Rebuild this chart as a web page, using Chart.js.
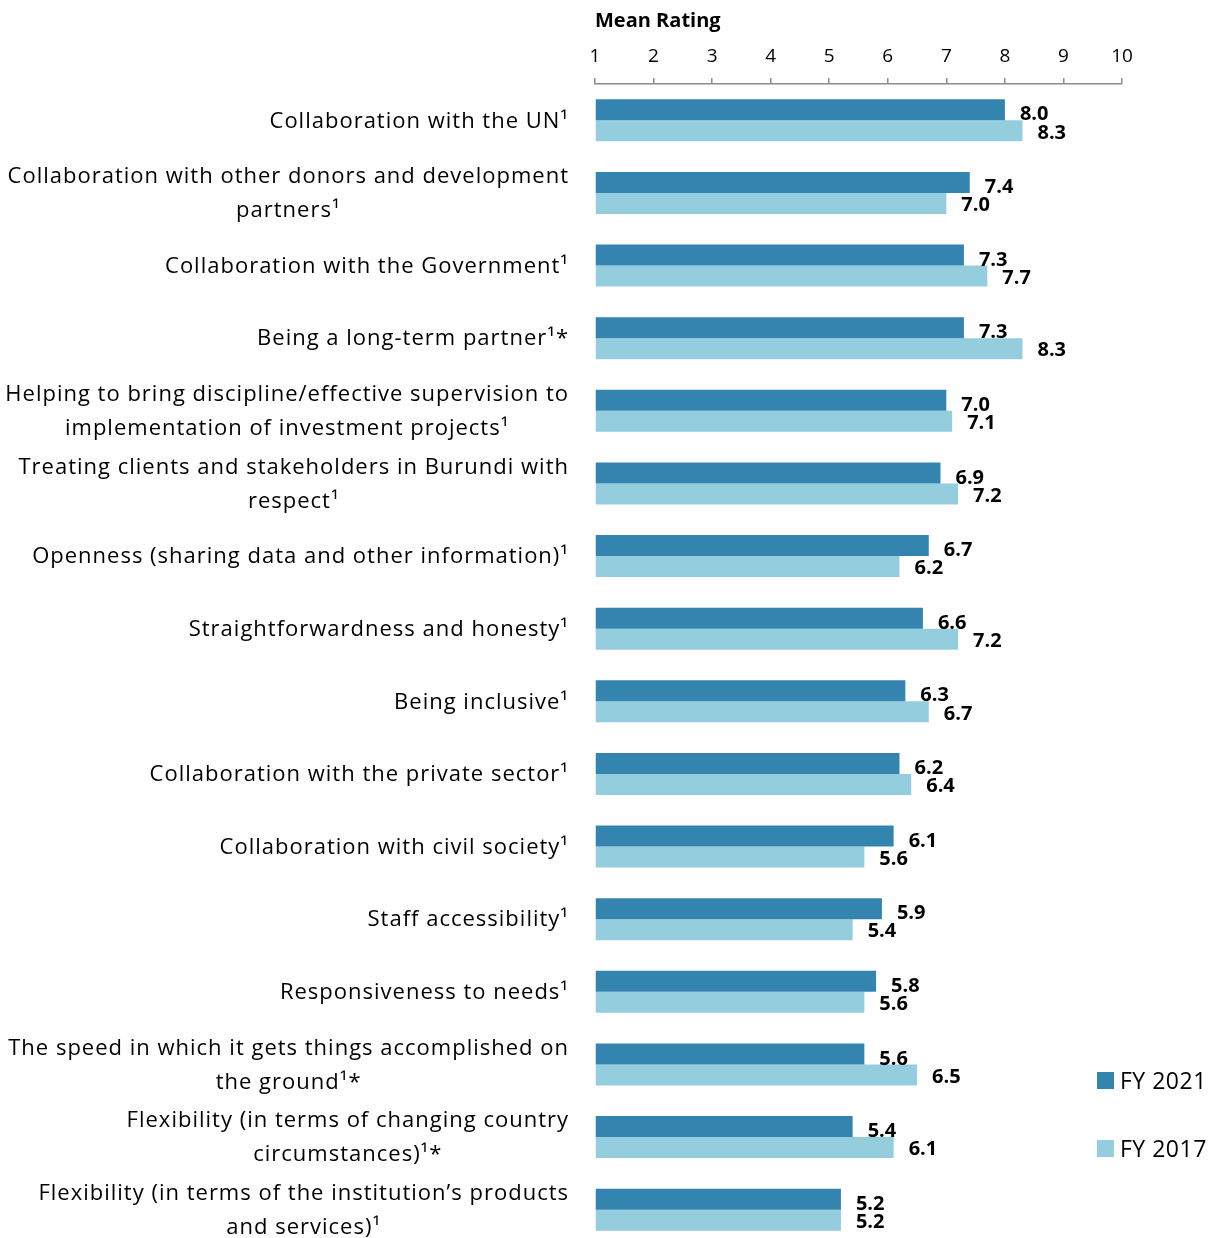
<!DOCTYPE html>
<html>
<head>
<meta charset="utf-8">
<script src="https://cdn.jsdelivr.net/npm/chart.js@4/dist/chart.umd.min.js"></script>
<style>
  html, body { margin: 0; padding: 0; background: #fff; overflow: hidden; }
  #wrap { position: relative; width: 1212px; height: 1246px; }
  #legend { position: absolute; left: 1097px; top: 1065px; font: 23px 'Open Sans', sans-serif; letter-spacing: 0.5px; color: #000; }
  .item { display: flex; align-items: center; height: 30px; }
  .item + .item { margin-top: 38px; }
  .box { width: 17px; height: 17px; margin-right: 6px; }
</style>
</head>
<body>
<div id="wrap">
  <canvas id="myChart" width="1212" height="1246"></canvas>
  <div id="legend"></div>
</div>
<script>
// Chart data
var categories = [
  'Collaboration with the UN¹',
  ['Collaboration with other donors and development', 'partners¹'],
  'Collaboration with the Government¹',
  'Being a long-term partner¹*',
  ['Helping to bring discipline/effective supervision to', 'implementation of investment projects¹'],
  ['Treating clients and stakeholders in Burundi with', 'respect¹'],
  'Openness (sharing data and other information)¹',
  'Straightforwardness and honesty¹',
  'Being inclusive¹',
  'Collaboration with the private sector¹',
  'Collaboration with civil society¹',
  'Staff accessibility¹',
  'Responsiveness to needs¹',
  ['The speed in which it gets things accomplished on', 'the ground¹*'],
  ['Flexibility (in terms of changing country', 'circumstances)¹*'],
  ['Flexibility (in terms of the institution’s products', 'and services)¹']
];
var fy2021 = [8.0, 7.4, 7.3, 7.3, 7.0, 6.9, 6.7, 6.6, 6.3, 6.2, 6.1, 5.9, 5.8, 5.6, 5.4, 5.2];
var fy2017 = [8.3, 7.0, 7.7, 8.3, 7.1, 7.2, 6.2, 7.2, 6.7, 6.4, 5.6, 5.4, 5.6, 6.5, 6.1, 5.2];
var seriesNames = ['FY 2021', 'FY 2017'];
var seriesColors = ['#3484b0', '#94cdde'];
var axisTitle = 'Mean Rating';

var FONT = "'Open Sans', sans-serif";

// Category labels: block right aligned, lines centred inside the block
var categoryLabels = {
  id: 'categoryLabels',
  afterDraw: function(chart) {
    var ctx = chart.ctx;
    var yScale = chart.scales.y;
    var right = chart.chartArea.left - 26;
    var lineH = 34;
    ctx.save();
    ctx.font = '22px ' + FONT;
    ctx.letterSpacing = '1px';
    ctx.fillStyle = '#000';
    ctx.textAlign = 'center';
    ctx.textBaseline = 'middle';
    categories.forEach(function(label, i) {
      var lines = Array.isArray(label) ? label : [label];
      var w = 0;
      lines.forEach(function(l) { w = Math.max(w, ctx.measureText(l).width); });
      var cx = right - w / 2;
      var cy = yScale.getPixelForValue(i) + 1;
      lines.forEach(function(l, j) {
        ctx.fillText(l, cx, cy + (j - (lines.length - 1) / 2) * lineH);
      });
    });
    ctx.restore();
  }
};

// Value labels at the end of each bar
var valueLabels = {
  id: 'valueLabels',
  afterDatasetsDraw: function(chart) {
    var ctx = chart.ctx;
    ctx.save();
    ctx.font = 'bold 20px ' + FONT;
    ctx.fillStyle = '#000';
    ctx.textAlign = 'left';
    ctx.textBaseline = 'middle';
    chart.data.datasets.forEach(function(ds, di) {
      chart.getDatasetMeta(di).data.forEach(function(bar, i) {
        ctx.fillText(ds.data[i].toFixed(1), bar.x + 15, bar.y + (di === 0 ? 5 : 2));
      });
    });
    ctx.restore();
  }
};

var ctx = document.getElementById('myChart').getContext('2d');
var myChart = new Chart(ctx, {
  type: 'bar',
  data: {
    labels: categories,
    datasets: [{
      label: seriesNames[0],
      data: fy2021,
      backgroundColor: seriesColors[0],
      base: 1
    }, {
      label: seriesNames[1],
      data: fy2017,
      backgroundColor: seriesColors[1],
      base: 1
    }]
  },
  options: {
    indexAxis: 'y',
    responsive: false,
    devicePixelRatio: 1,
    animation: false,
    categoryPercentage: 0.58,
    barPercentage: 1,
    layout: { padding: { left: 0, right: 90, top: 0, bottom: 0 } },
    plugins: {
      legend: { display: false },
      tooltip: { enabled: false }
    },
    scales: {
      x: {
        position: 'top',
        min: 1,
        max: 10,
        ticks: {
          stepSize: 1,
          color: '#000',
          padding: 10,
          font: { family: FONT, size: 19 }
        },
        grid: {
          drawOnChartArea: false,
          drawTicks: true,
          tickLength: 6,
          color: '#8c8c8c',
          lineWidth: 1.5
        },
        border: { color: '#8c8c8c', width: 1.5 },
        title: {
          display: true,
          text: axisTitle,
          align: 'start',
          color: '#000',
          padding: { top: 9, bottom: 0 },
          font: { family: FONT, size: 20, weight: 'bold' }
        },
        afterFit: function(scale) { scale.height = 84; }
      },
      y: {
        ticks: { display: false },
        grid: { display: false },
        border: { display: false },
        afterFit: function(scale) { scale.width = 595; }
      }
    }
  },
  plugins: [categoryLabels, valueLabels]
});

// Legend in the lower right corner
var legend = document.getElementById('legend');
seriesNames.forEach(function(name, i) {
  var item = document.createElement('div');
  item.className = 'item';
  item.innerHTML = '<span class="box" style="background:' + seriesColors[i] + '"></span>' + name;
  legend.appendChild(item);
});
</script>
</body>
</html>
